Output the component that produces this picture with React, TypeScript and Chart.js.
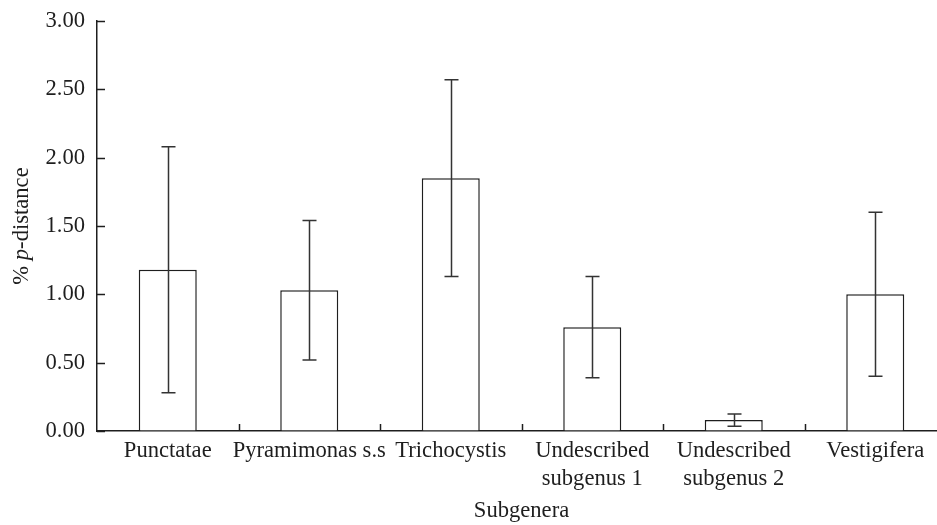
import React, { useEffect, useRef } from "react";
import { Chart, registerables } from "chart.js";

Chart.register(...registerables);

const categories: (string | string[])[] = [
  "Punctatae",
  "Pyramimonas s.s",
  "Trichocystis",
  ["Undescribed", "subgenus 1"],
  ["Undescribed", "subgenus 2"],
  "Vestigifera",
];
const meanValues = [1.18, 1.03, 1.85, 0.76, 0.08, 1.0];
const errorValues = [0.9, 0.51, 0.72, 0.37, 0.045, 0.6];
const yTicks = [0, 0.5, 1, 1.5, 2, 2.5, 3];

const FONT = "'Liberation Serif', 'Times New Roman', serif";
const FS = 22.6;
const INK = "#1e1e1e";

const decorPlugin = {
  id: "decor",
  afterDatasetsDraw(chart: any) {
    const { ctx, chartArea } = chart;
    const x = chart.scales.x;
    const y = chart.scales.y;
    ctx.save();
    ctx.strokeStyle = INK;
    ctx.lineWidth = 1.5;
    // inward y ticks
    for (const v of yTicks) {
      const py = Math.round(y.getPixelForValue(v)) + 0.5;
      ctx.beginPath();
      ctx.moveTo(chartArea.left, py);
      ctx.lineTo(chartArea.left + 8, py);
      ctx.stroke();
    }
    // inward x ticks between categories
    for (let i = 0; i < categories.length - 1; i++) {
      const px = Math.round((x.getPixelForValue(i) + x.getPixelForValue(i + 1)) / 2) + 0.5;
      ctx.beginPath();
      ctx.moveTo(px, chartArea.bottom);
      ctx.lineTo(px, chartArea.bottom - 7);
      ctx.stroke();
    }
    // error bars
    const meta = chart.getDatasetMeta(0);
    ctx.strokeStyle = "#333";
    meta.data.forEach((bar: any, i: number) => {
      const cx = Math.round(bar.x) + 0.5;
      const top = y.getPixelForValue(meanValues[i] + errorValues[i]);
      const bot = y.getPixelForValue(meanValues[i] - errorValues[i]);
      ctx.beginPath();
      ctx.moveTo(cx, top);
      ctx.lineTo(cx, bot);
      ctx.moveTo(cx - 7, top);
      ctx.lineTo(cx + 7, top);
      ctx.moveTo(cx - 7, bot);
      ctx.lineTo(cx + 7, bot);
      ctx.stroke();
    });
    // y axis title with italic p
    const cy = (chartArea.top + chartArea.bottom) / 2;
    ctx.translate(22, cy);
    ctx.rotate(-Math.PI / 2);
    ctx.fillStyle = INK;
    ctx.textBaseline = "middle";
    ctx.textAlign = "left";
    const normal = `${FS}px ${FONT}`;
    const italic = `italic ${FS}px ${FONT}`;
    const parts: [string, string][] = [
      ["% ", normal],
      ["p", italic],
      ["-distance", normal],
    ];
    let total = 0;
    for (const [t, f] of parts) {
      ctx.font = f;
      total += ctx.measureText(t).width;
    }
    let sx = -total / 2;
    for (const [t, f] of parts) {
      ctx.font = f;
      ctx.fillText(t, sx, 0);
      sx += ctx.measureText(t).width;
    }
    ctx.restore();
  },
};

export default function App() {
  const ref = useRef<HTMLCanvasElement>(null);
  useEffect(() => {
    if (!ref.current) return;
    const chart = new Chart(ref.current, {
      type: "bar",
      data: {
        labels: categories,
        datasets: [
          {
            data: meanValues,
            backgroundColor: "#ffffff",
            borderColor: INK,
            borderWidth: 1.5,
            barPercentage: 0.41,
            categoryPercentage: 1,
          },
        ],
      },
      options: {
        responsive: false,
        animation: false,
        layout: { padding: { top: 21, right: 4, left: 0, bottom: 0 } },
        plugins: { legend: { display: false }, tooltip: { enabled: false } },
        scales: {
          x: {
            grid: { display: true, drawOnChartArea: false, drawTicks: false },
            border: { display: true, color: INK, width: 1.5 },
            ticks: {
              color: INK,
              padding: 6,
              maxRotation: 0,
              autoSkip: false,
              font: { family: FONT, size: FS, lineHeight: 1.25 },
            },
            title: {
              display: true,
              text: "Subgenera",
              color: INK,
              padding: { top: 0, bottom: 0 },
              font: { family: FONT, size: FS },
            },
            afterFit: (s: any) => {
              s.height = 94;
            },
          },
          y: {
            min: 0,
            max: 3,
            afterBuildTicks: (s: any) => {
              s.ticks = yTicks.map((v) => ({ value: v }));
            },
            grid: { display: true, drawOnChartArea: false, drawTicks: false },
            border: { display: true, color: INK, width: 1.5 },
            ticks: {
              color: INK,
              padding: 12,
              font: { family: FONT, size: FS },
              callback: (v: any) => Number(v).toFixed(2),
            },
            afterFit: (s: any) => {
              s.width = 97;
              s.paddingTop = 0;
              s.paddingBottom = 0;
            },
          },
        },
      },
      plugins: [decorPlugin],
    });
    return () => chart.destroy();
  }, []);
  return (
    <div
      style={{
        position: "fixed",
        left: 0,
        top: 0,
        width: 937,
        height: 525,
        overflow: "hidden",
        background: "#fff",
      }}
    >
      <canvas ref={ref} width={950} height={525} style={{ display: "block" }} />
    </div>
  );
}
